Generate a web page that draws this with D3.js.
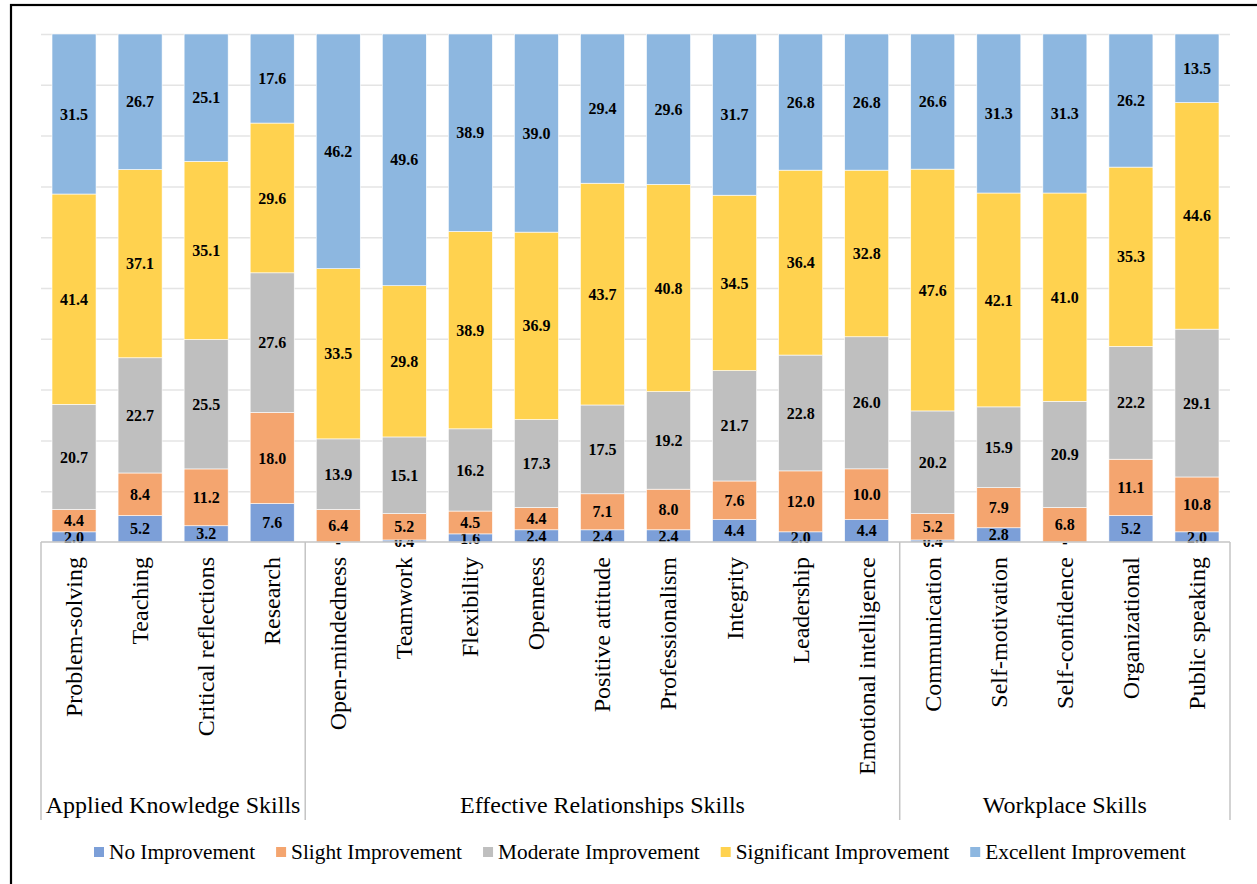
<!DOCTYPE html>
<html>
<head>
<meta charset="utf-8">
<script src="https://cdn.jsdelivr.net/npm/d3@7"></script>
<style>
    body { margin: 0; background: #fff; }
</style>
</head>
<body>
<div id="chartContainer"></div>
<script>
// Skill categories (in chart order) and the group each block belongs to
const categories = [
    "Problem-solving", "Teaching", "Critical reflections", "Research",
    "Open-mindedness", "Teamwork", "Flexibility", "Openness", "Positive attitude",
    "Professionalism", "Integrity", "Leadership", "Emotional intelligence",
    "Communication", "Self-motivation", "Self-confidence", "Organizational", "Public speaking"
];
const groupNames = ["Applied Knowledge Skills", "Effective Relationships Skills", "Workplace Skills"];
const groupSizes = [4, 9, 5];

// Series (percent of respondents)
const seriesNames = ["No Improvement", "Slight Improvement", "Moderate Improvement", "Significant Improvement", "Excellent Improvement"];
const noImprovement = [2.0, 5.2, 3.2, 7.6, 0, 0.4, 1.6, 2.4, 2.4, 2.4, 4.4, 2.0, 4.4, 0.4, 2.8, 0, 5.2, 2.0];
const slightImprovement = [4.4, 8.4, 11.2, 18.0, 6.4, 5.2, 4.5, 4.4, 7.1, 8.0, 7.6, 12.0, 10.0, 5.2, 7.9, 6.8, 11.1, 10.8];
const moderateImprovement = [20.7, 22.7, 25.5, 27.6, 13.9, 15.1, 16.2, 17.3, 17.5, 19.2, 21.7, 22.8, 26.0, 20.2, 15.9, 20.9, 22.2, 29.1];
const significantImprovement = [41.4, 37.1, 35.1, 29.6, 33.5, 29.8, 38.9, 36.9, 43.7, 40.8, 34.5, 36.4, 32.8, 47.6, 42.1, 41.0, 35.3, 44.6];
const excellentImprovement = [31.5, 26.7, 25.1, 17.6, 46.2, 49.6, 38.9, 39.0, 29.4, 29.6, 31.7, 26.8, 26.8, 26.6, 31.3, 31.3, 26.2, 13.5];
const seriesValues = [noImprovement, slightImprovement, moderateImprovement, significantImprovement, excellentImprovement];
const seriesColors = ["#7c9fd8", "#f4a56f", "#bfbfbf", "#ffd24f", "#8db7e0"];
const gridTicks = [0.1, 0.2, 0.3, 0.4, 0.5, 0.6, 0.7, 0.8, 0.9, 1.0];

const serif = "'Liberation Serif', 'Times New Roman', serif";
const svgWidth = 1257;
const svgHeight = 884;
const margin = { top: 34, left: 41, right: 27, bottom: 342 };
const plotBottom = svgHeight - margin.bottom;

const svg = d3.select("#chartContainer")
    .append("svg")
    .attr("width", svgWidth)
    .attr("height", svgHeight)
    .attr("font-family", serif);

// outer frame (runs off the page on the right and bottom)
svg.append("rect")
    .attr("x", 11).attr("y", 5)
    .attr("width", svgWidth + 20).attr("height", svgHeight + 20)
    .attr("fill", "none")
    .attr("stroke", "#000")
    .attr("stroke-width", 2.2);

// build rows for the stack
const rows = categories.map((c, i) => {
    const row = { category: c };
    seriesNames.forEach((s, j) => { row[s] = seriesValues[j][i]; });
    return row;
});

// 100% stacked, like the original
const stacked = d3.stack()
    .keys(seriesNames)
    .offset(d3.stackOffsetExpand)(rows);

const xScale = d3.scaleBand()
    .domain(categories)
    .range([margin.left, svgWidth - margin.right])
    .paddingInner(1 / 3)
    .paddingOuter(1 / 6);

const yScale = d3.scaleLinear()
    .domain([0, 1])
    .range([plotBottom, margin.top]);

const colorScale = d3.scaleOrdinal()
    .domain(seriesNames)
    .range(seriesColors);

// gridlines
const grid = svg.append("g")
    .attr("transform", `translate(${margin.left}, 0)`)
    .call(d3.axisLeft(yScale)
        .tickValues(gridTicks)
        .tickSize(-(svgWidth - margin.right - margin.left))
        .tickFormat(""));
grid.select(".domain").remove();
grid.selectAll(".tick line")
    .attr("stroke", "#e4e4e4")
    .attr("stroke-width", 1.5);

// bars
const layers = svg.selectAll(".layer")
    .data(stacked)
    .enter()
    .append("g")
    .attr("class", "layer")
    .attr("fill", d => colorScale(d.key));

layers.selectAll("rect")
    .data(d => d)
    .enter()
    .append("rect")
    .attr("x", d => xScale(d.data.category))
    .attr("y", d => yScale(d[1]))
    .attr("width", xScale.bandwidth())
    .attr("height", d => yScale(d[0]) - yScale(d[1]))
    .attr("stroke", "#fff")
    .attr("stroke-width", 0.6);

// value labels
const fmt = d3.format(".1f");
layers.selectAll("text")
    .data(d => d.map(p => ({ p: p, value: p.data[d.key] })))
    .enter()
    .append("text")
    .attr("x", d => xScale(d.p.data.category) + xScale.bandwidth() / 2)
    .attr("y", d => yScale((d.p[0] + d.p[1]) / 2))
    .attr("dy", "0.35em")
    .attr("text-anchor", "middle")
    .attr("fill", "#000")
    .attr("font-family", serif)
    .attr("font-weight", "bold")
    .attr("font-size", 16)
    .text(d => d.value === 0 ? "-" : fmt(d.value));

// category axis line and group separators
const axisColor = "#c4c4c4";
const boxBottom = 820;
svg.append("line")
    .attr("x1", margin.left).attr("x2", svgWidth - margin.right)
    .attr("y1", plotBottom).attr("y2", plotBottom)
    .attr("stroke", axisColor)
    .attr("stroke-width", 1.5);

const half = (xScale.step() - xScale.bandwidth()) / 2;
let start = 0;
const groups = groupNames.map((g, i) => {
    const first = categories[start];
    const last = categories[start + groupSizes[i] - 1];
    start += groupSizes[i];
    return {
        name: g,
        x0: xScale(first) - half,
        x1: xScale(last) + xScale.bandwidth() + half
    };
});

const edges = [groups[0].x0].concat(groups.map(g => g.x1));
svg.selectAll(".sep")
    .data(edges)
    .enter()
    .append("line")
    .attr("class", "sep")
    .attr("x1", d => d).attr("x2", d => d)
    .attr("y1", plotBottom).attr("y2", boxBottom)
    .attr("stroke", axisColor)
    .attr("stroke-width", 1.5);

// category labels (rotated)
svg.selectAll(".cat")
    .data(categories)
    .enter()
    .append("text")
    .attr("class", "cat")
    .attr("transform", d => `translate(${xScale(d) + xScale.bandwidth() / 2}, ${plotBottom + 15}) rotate(-90)`)
    .attr("dy", "0.33em")
    .attr("text-anchor", "end")
    .attr("font-family", serif)
    .attr("font-size", 24)
    .attr("fill", "#000")
    .text(d => d);

// group labels
svg.selectAll(".grp")
    .data(groups)
    .enter()
    .append("text")
    .attr("class", "grp")
    .attr("x", d => (d.x0 + d.x1) / 2)
    .attr("y", 813)
    .attr("text-anchor", "middle")
    .attr("font-family", serif)
    .attr("font-size", 24)
    .attr("fill", "#000")
    .text(d => d.name);

// legend
const legend = svg.append("g");
let lx = 94;
seriesNames.forEach((s, i) => {
    legend.append("rect")
        .attr("x", lx).attr("y", 847)
        .attr("width", 10).attr("height", 10)
        .attr("fill", colorScale(s));
    const t = legend.append("text")
        .attr("x", lx + 15)
        .attr("y", 859)
        .attr("font-family", serif)
        .attr("font-size", 21.3)
        .attr("fill", "#000")
        .text(s);
    lx += 15 + t.node().getComputedTextLength() + 21;
});
</script>
</body>
</html>
